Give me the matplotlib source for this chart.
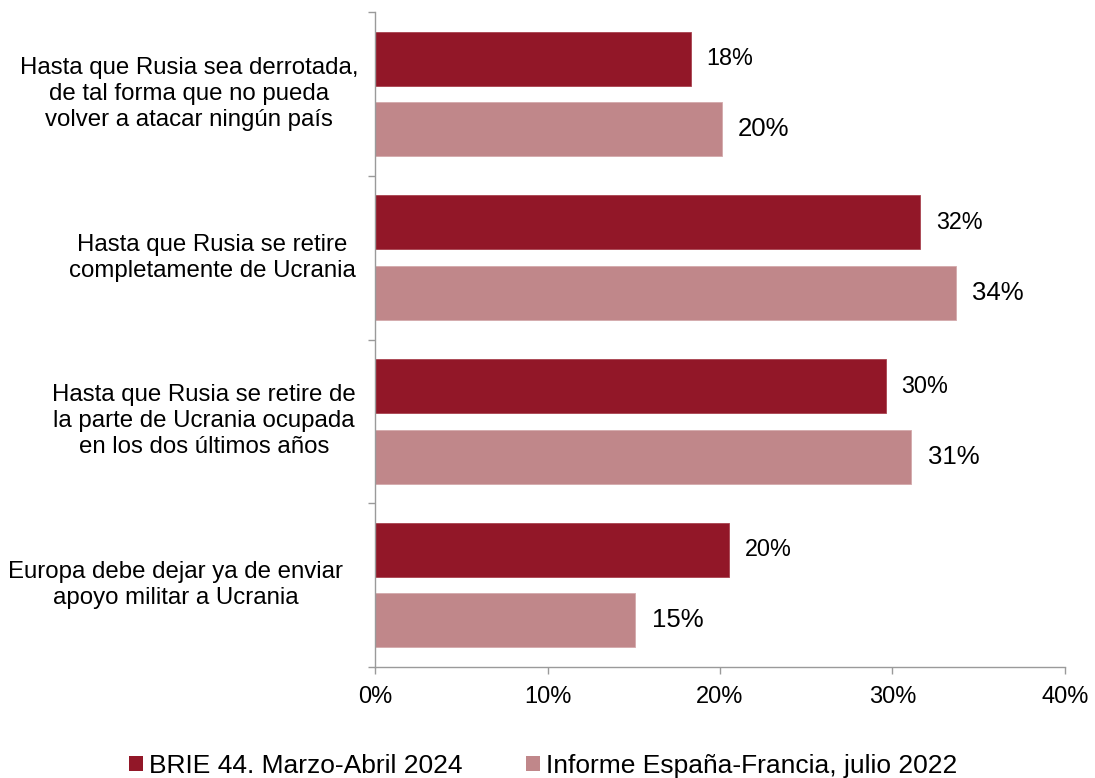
import matplotlib
matplotlib.use("Agg")
import matplotlib.pyplot as plt
import matplotlib.transforms as mtransforms
from matplotlib.patches import Patch
import numpy as np

plt.rcParams['font.family'] = ['Liberation Sans', 'DejaVu Sans']

categories = [
    "Hasta que Rusia sea derrotada,\nde tal forma que no pueda\nvolver a atacar ningún país",
    "Hasta que Rusia se retire\ncompletamente de Ucrania",
    "Hasta que Rusia se retire de\nla parte de Ucrania ocupada\nen los dos últimos años",
    "Europa debe dejar ya de enviar\napoyo militar a Ucrania",
]
brie_2024 = [18.3, 31.6, 29.6, 20.5]
informe_2022 = [20.1, 33.7, 31.1, 15.1]
brie_labels = ["18%", "32%", "30%", "20%"]
informe_labels = ["20%", "34%", "31%", "15%"]
series_names = ["BRIE 44. Marzo-Abril 2024", "Informe España-Francia, julio 2022"]
xticks = [0, 10, 20, 30, 40]

dark = "#921728"
light = "#C0878A"
axis_gray = "#9A9A9A"

fig = plt.figure(figsize=(10.95, 7.78), dpi=100)
ax = fig.add_axes([375 / 1095, 1 - 667 / 778, 690 / 1095, 655 / 778])

y = np.arange(len(categories))
off = 0.215
h = 0.33
ax.barh(y - off, brie_2024, height=h, color=dark, edgecolor="#A8434F", linewidth=0.6)
ax.barh(y + off, informe_2022, height=h, color=light, edgecolor="#D4A9AB", linewidth=0.6)

for yi, v, lab in zip(y, brie_2024, brie_labels):
    ax.text(v + 0.93, yi - off, lab, va="center", ha="left", fontsize=16.8)
for yi, v, lab in zip(y, informe_2022, informe_labels):
    ax.text(v + 0.93, yi + off, lab, va="center", ha="left", fontsize=18.5)

ax.set_xlim(0, 40)
ax.set_ylim(len(categories) - 0.5, -0.5)
ax.set_xticks(xticks)
ax.set_xticklabels([f"{t}%" for t in xticks], fontsize=17)
ax.set_yticks(np.arange(len(categories) + 1) - 0.5)
ax.set_yticklabels([])

for s in ["top", "right"]:
    ax.spines[s].set_visible(False)
for s in ["left", "bottom"]:
    ax.spines[s].set_color(axis_gray)
    ax.spines[s].set_linewidth(1.0)
ax.tick_params(axis="both", color=axis_gray, length=5, width=1.0)
ax.tick_params(axis="x", pad=9)

label_x = [189, 212, 204, 176]
trans = mtransforms.blended_transform_factory(fig.transFigure, ax.transData)
for yi, lab, lx in zip(y, categories, label_x):
    ax.text(lx / 1095, yi, lab, transform=trans, ha="center", va="center",
            multialignment="center", fontsize=17.3, linespacing=1.24)

handles = [Patch(facecolor=dark, edgecolor="none"), Patch(facecolor=light, edgecolor="none")]
fig.legend(handles, series_names, loc="center", ncol=2,
           bbox_to_anchor=(543 / 1095, 1 - 766 / 778), frameon=False,
           fontsize=19, handlelength=0.53, handleheight=0.53,
           handletextpad=0.23, columnspacing=2.4, borderpad=0, borderaxespad=0)

fig.savefig("out.png", dpi=100)
